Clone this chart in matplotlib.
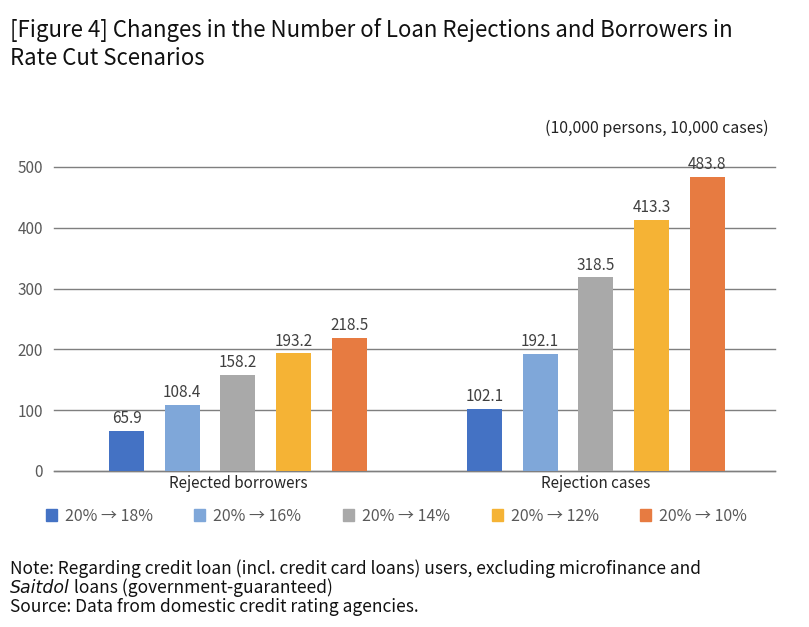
import matplotlib
matplotlib.use("Agg")
import matplotlib.pyplot as plt
import numpy as np

plt.rcParams['font.family'] = ['Noto Sans CJK KR', 'DejaVu Sans']

categories = ["Rejected borrowers", "Rejection cases"]
series = ["20%→18%", "20%→16%", "20%→14%", "20%→12%", "20%→10%"]
values = {
    "20%→18%": [65.9, 102.1],
    "20%→16%": [108.4, 192.1],
    "20%→14%": [158.2, 318.5],
    "20%→12%": [193.2, 413.3],
    "20%→10%": [218.5, 483.8],
}
colors = ["#4472C4", "#7FA7D9", "#A9A9A9", "#F5B335", "#E77B41"]
yticks = [0, 100, 200, 300, 400, 500]

fig = plt.figure(figsize=(8.09, 6.27), dpi=100)
ax = fig.add_axes([0.0667, 0.249, 0.891, 0.4847])

x = np.arange(len(categories))
step = 0.1556
width = 0.098
for i, s in enumerate(series):
    pos = x + (i - 2) * step
    ax.bar(pos, values[s], width=width, color=colors[i], zorder=3, label=s)
    for p, v in zip(pos, values[s]):
        ax.text(p, v + 6, f"{v:.1f}", ha="center", va="bottom", fontsize=11, color="#404040")

ax.set_xlim(-0.514, 1.5)
ax.set_ylim(0, 500)
ax.set_yticks(yticks)
ax.set_yticklabels([str(t) for t in yticks], fontsize=11, color="#595959")
ax.yaxis.grid(True, color="#7F7F7F", linewidth=1.0, zorder=0, clip_on=False)
ax.set_xticks(x)
ax.set_xticklabels(categories, fontsize=11, color="#262626")
ax.tick_params(axis="both", length=0)
ax.tick_params(axis="y", pad=8)
ax.tick_params(axis="x", pad=3)
for sp in ax.spines.values():
    sp.set_visible(False)
ax.axhline(0, color="#7F7F7F", linewidth=1.0, zorder=2, clip_on=False)

fig.text(0.012, 0.972, "[Figure 4] Changes in the Number of Loan Rejections and Borrowers in\nRate Cut Scenarios",
         ha="left", va="top", fontsize=16, color="#111111", linespacing=1.3)
fig.text(0.95, 0.796, "(10,000 persons, 10,000 cases)", ha="right", va="center", fontsize=11.5, color="#222222")

handles = [plt.Rectangle((0, 0), 1, 1, color=c) for c in colors]
fig.legend(handles, [s.replace("→", " → ") for s in series], loc="center", bbox_to_anchor=(0.49, 0.177),
           ncol=5, frameon=False, fontsize=11.5, handlelength=0.7, handleheight=0.7,
           handletextpad=0.5, columnspacing=2.6, labelcolor="#595959")

fs = 12.5
fig.text(0.012, 0.108, "Note: Regarding credit loan (incl. credit card loans) users, excluding microfinance and",
         ha="left", va="top", fontsize=fs, color="#111111")
it = fig.text(0.012, 0.077, "Saitdol", ha="left", va="top", fontsize=fs, color="#111111",
              style="italic", family="DejaVu Sans")
fig.canvas.draw()
bb = it.get_window_extent(renderer=fig.canvas.get_renderer())
x_end = bb.x1 / fig.bbox.width
fig.text(x_end, 0.077, " loans (government-guaranteed)", ha="left", va="top", fontsize=fs, color="#111111")
fig.text(0.012, 0.046, "Source: Data from domestic credit rating agencies.", ha="left", va="top", fontsize=fs, color="#111111")

fig.savefig("out.png", dpi=100)
